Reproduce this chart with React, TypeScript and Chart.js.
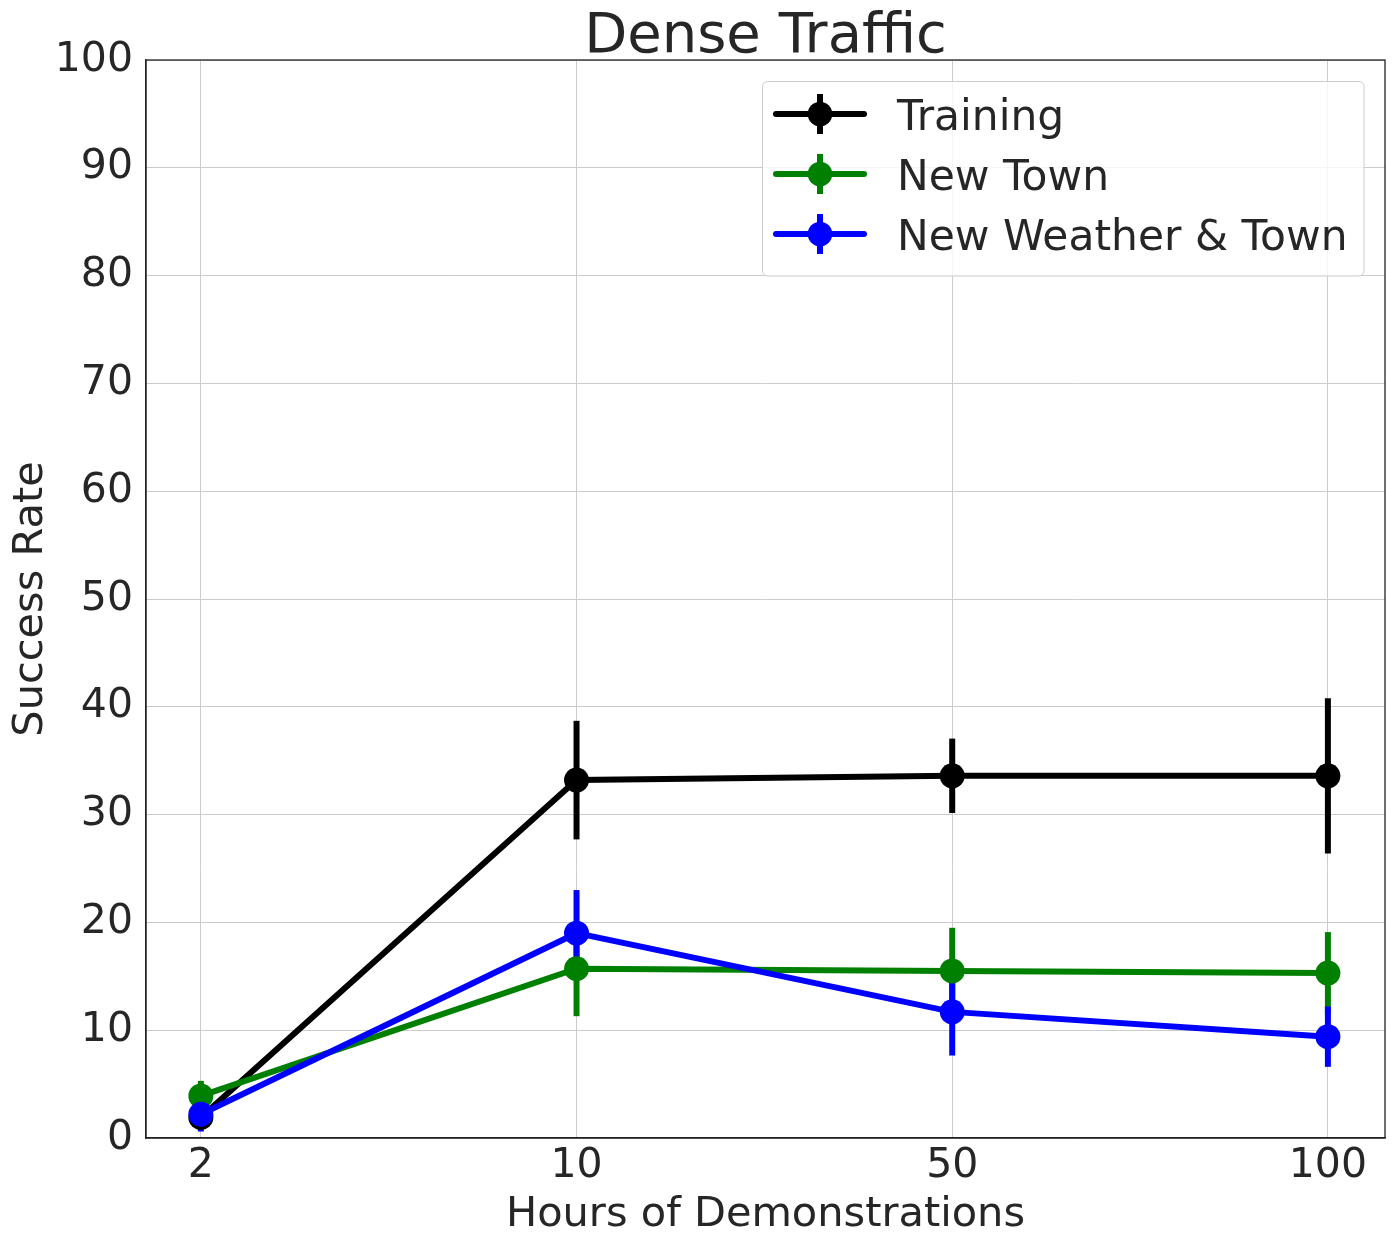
import { useEffect, useRef } from "react";
import { Chart, registerables } from "chart.js";

Chart.register(...registerables);

// data
const hours = ["2", "10", "50", "100"];
const seriesNames = ["Training", "New Town", "New Weather & Town"];
const seriesColors = ["#000000", "#008000", "#0000ff"];
const training = [1.9, 33.2, 33.6, 33.6];
const trainingErr = [0.9, 5.5, 3.45, 7.2];
const newTown = [3.9, 15.7, 15.5, 15.3];
const newTownErr = [1.4, 4.4, 4.0, 3.8];
const newWeatherTown = [2.2, 19.0, 11.7, 9.4];
const newWeatherTownErr = [1.6, 4.0, 4.05, 2.8];
const yTicks = [0, 10, 20, 30, 40, 50, 60, 70, 80, 90, 100];

const FONT = "'DejaVu Sans', sans-serif";
const TEXT = "#262626";

const values = [training, newTown, newWeatherTown];
const errors = [trainingErr, newTownErr, newWeatherTownErr];

const App = () => {
  const canvasRef = useRef<HTMLCanvasElement>(null);

  useEffect(() => {
    document.body.style.margin = "0";
    if (!canvasRef.current) return;

    // error bars under the lines and markers
    const errorBars = {
      id: "errorBars",
      beforeDatasetsDraw(chart: any) {
        const { ctx, scales } = chart;
        ctx.save();
        ctx.lineWidth = 6;
        ctx.lineCap = "butt";
        values.forEach((vals, s) => {
          ctx.strokeStyle = seriesColors[s];
          vals.forEach((v, i) => {
            const x = scales.x.getPixelForValue(i);
            ctx.beginPath();
            ctx.moveTo(x, scales.y.getPixelForValue(v - errors[s][i]));
            ctx.lineTo(x, scales.y.getPixelForValue(v + errors[s][i]));
            ctx.stroke();
          });
        });
        ctx.restore();
      },
    };

    // frame, title, axis titles and legend, matplotlib style
    const decorations = {
      id: "decorations",
      afterDraw(chart: any) {
        const { ctx, chartArea } = chart;
        const cx = (chartArea.left + chartArea.right) / 2;
        const cy = (chartArea.top + chartArea.bottom) / 2;
        ctx.save();
        ctx.strokeStyle = "#222222";
        ctx.lineWidth = 1.3;
        ctx.strokeRect(
          chartArea.left,
          chartArea.top,
          chartArea.right - chartArea.left,
          chartArea.bottom - chartArea.top
        );

        ctx.fillStyle = TEXT;
        ctx.textAlign = "center";
        ctx.textBaseline = "alphabetic";
        ctx.font = `56px ${FONT}`;
        ctx.fillText("Dense Traffic", cx, 52);
        ctx.font = `41.5px ${FONT}`;
        ctx.fillText("Hours of Demonstrations", cx, 1226);
        ctx.save();
        ctx.translate(42, cy);
        ctx.rotate(-Math.PI / 2);
        ctx.fillText("Success Rate", 0, 0);
        ctx.restore();

        // legend box
        const bx = 762.5, by = 81.5, bw = 601.5, bh = 194.5, r = 5;
        ctx.beginPath();
        ctx.moveTo(bx + r, by);
        ctx.arcTo(bx + bw, by, bx + bw, by + bh, r);
        ctx.arcTo(bx + bw, by + bh, bx, by + bh, r);
        ctx.arcTo(bx, by + bh, bx, by, r);
        ctx.arcTo(bx, by, bx + bw, by, r);
        ctx.closePath();
        ctx.fillStyle = "rgba(255,255,255,0.8)";
        ctx.fill();
        ctx.strokeStyle = "#cccccc";
        ctx.lineWidth = 1;
        ctx.stroke();

        seriesNames.forEach((name, s) => {
          const y = 114 + s * 60;
          ctx.strokeStyle = seriesColors[s];
          ctx.fillStyle = seriesColors[s];
          ctx.lineWidth = 6;
          ctx.lineCap = "round";
          ctx.beginPath();
          ctx.moveTo(776, y);
          ctx.lineTo(864, y);
          ctx.stroke();
          ctx.lineCap = "butt";
          ctx.beginPath();
          ctx.moveTo(820, y - 20);
          ctx.lineTo(820, y + 20);
          ctx.stroke();
          ctx.beginPath();
          ctx.arc(820, y, 12.3, 0, Math.PI * 2);
          ctx.fill();
          ctx.fillStyle = TEXT;
          ctx.textAlign = "left";
          ctx.font = `42.4px ${FONT}`;
          ctx.fillText(name, 897, y + 16);
        });
        ctx.restore();
      },
    };

    const chart = new Chart(canvasRef.current, {
      type: "line",
      data: {
        datasets: seriesNames.map((name, s) => ({
          label: name,
          data: values[s].map((v, i) => ({ x: i, y: v })),
          borderColor: seriesColors[s],
          backgroundColor: seriesColors[s],
          borderWidth: 6,
          pointRadius: 12.5,
          pointBorderWidth: 0,
          pointBackgroundColor: seriesColors[s],
          tension: 0,
          order: 2 - s,
        })),
      },
      options: {
        animation: false,
        responsive: false,
        layout: { padding: { top: 60, right: 13, left: 0, bottom: 0 } },
        plugins: {
          legend: { display: false },
          title: { display: false },
          tooltip: { enabled: false },
        },
        scales: {
          x: {
            type: "linear",
            min: -0.146,
            max: 3.152,
            afterBuildTicks: (scale: any) => {
              scale.ticks = hours.map((_, i) => ({ value: i }));
            },
            afterFit: (scale: any) => {
              scale.height = 105;
            },
            ticks: {
              callback: (v: any) => hours[v] ?? "",
              color: TEXT,
              font: { family: FONT, size: 41 },
              padding: 4,
              maxRotation: 0,
            },
            grid: { color: "#cccccc", lineWidth: 1, drawTicks: false },
            border: { color: "#222222", width: 1.3 },
          },
          y: {
            type: "linear",
            min: 0,
            max: 100,
            afterBuildTicks: (scale: any) => {
              scale.ticks = yTicks.map((v) => ({ value: v }));
            },
            afterFit: (scale: any) => {
              scale.width = 146;
            },
            ticks: {
              color: TEXT,
              font: { family: FONT, size: 41 },
              padding: 13,
            },
            grid: { color: "#cccccc", lineWidth: 1, drawTicks: false },
            border: { color: "#222222", width: 1.3 },
          },
        },
      },
      plugins: [errorBars, decorations],
    } as any);

    return () => {
      chart.destroy();
    };
  }, []);

  return (
    <div style={{ width: 1398, height: 1243, background: "#fff" }}>
      <canvas ref={canvasRef} width={1398} height={1243} style={{ display: "block" }} />
    </div>
  );
};

export default App;
